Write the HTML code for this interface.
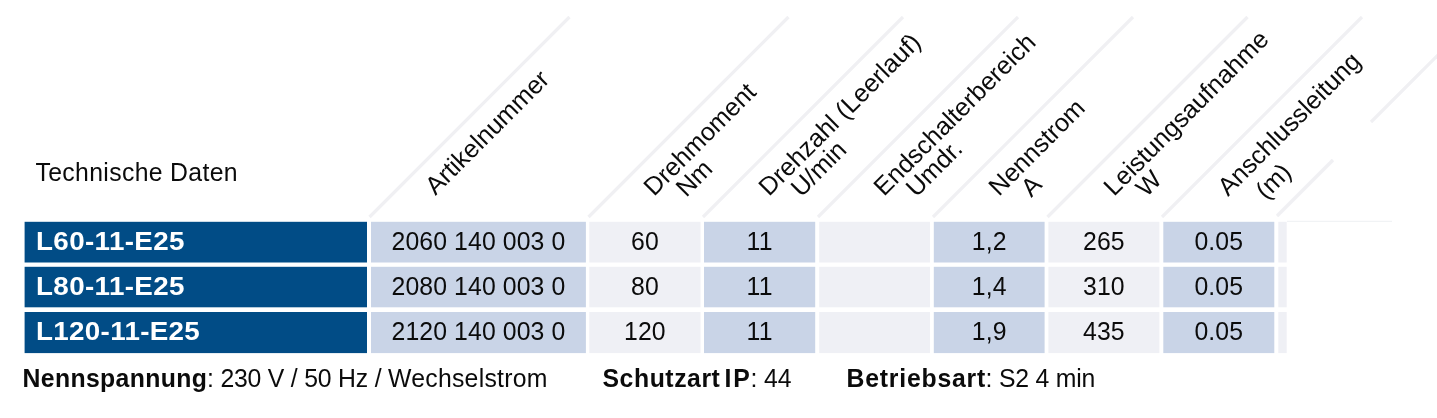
<!DOCTYPE html>
<html lang="de"><head><meta charset="utf-8"><title>Technische Daten</title>
<style>
html,body{margin:0;padding:0;background:#fff;}
body{width:1437px;height:418px;position:relative;overflow:hidden;font-family:"Liberation Sans",Arial,Helvetica,sans-serif;color:#0b0b0b;font-size:24.8px;line-height:1;}
.c{position:absolute;box-sizing:border-box;padding-top:6.75px;text-align:center;white-space:nowrap;letter-spacing:0.1px;}
.c span{display:inline-block;transform:scale(1,1.04);transform-origin:50% 0;}
.t{position:absolute;white-space:nowrap;line-height:1;transform-origin:0 0;}
.w{color:#fff;}
b,.b{font-weight:bold;}
svg{position:absolute;left:0;top:0;}
svg text{font-family:"Liberation Sans",Arial,Helvetica,sans-serif;font-size:25.3px;fill:#0b0b0b;}
</style></head><body>
<svg width="1437" height="418" viewBox="0 0 1437 418">
<rect x="24.6" y="221.8" width="342.4" height="40.7" fill="#014c86"/>
<rect x="371" y="221.8" width="214.9" height="40.7" fill="#c9d4e7"/>
<rect x="589.3" y="221.8" width="111.2" height="40.7" fill="#eff0f5"/>
<rect x="704" y="221.8" width="111.2" height="40.7" fill="#c9d4e7"/>
<rect x="819.2" y="221.8" width="110.8" height="40.7" fill="#eff0f5"/>
<rect x="933.8" y="221.8" width="110.8" height="40.7" fill="#c9d4e7"/>
<rect x="1048.4" y="221.8" width="111.0" height="40.7" fill="#eff0f5"/>
<rect x="1163.3" y="221.8" width="111.0" height="40.7" fill="#c9d4e7"/>
<rect x="1278.3" y="221.8" width="8.4" height="40.7" fill="#eff0f5"/>
<rect x="24.6" y="266.8" width="342.4" height="40.5" fill="#014c86"/>
<rect x="371" y="266.8" width="214.9" height="40.5" fill="#c9d4e7"/>
<rect x="589.3" y="266.8" width="111.2" height="40.5" fill="#eff0f5"/>
<rect x="704" y="266.8" width="111.2" height="40.5" fill="#c9d4e7"/>
<rect x="819.2" y="266.8" width="110.8" height="40.5" fill="#eff0f5"/>
<rect x="933.8" y="266.8" width="110.8" height="40.5" fill="#c9d4e7"/>
<rect x="1048.4" y="266.8" width="111.0" height="40.5" fill="#eff0f5"/>
<rect x="1163.3" y="266.8" width="111.0" height="40.5" fill="#c9d4e7"/>
<rect x="1278.3" y="266.8" width="8.4" height="40.5" fill="#eff0f5"/>
<rect x="24.6" y="312" width="342.4" height="41.1" fill="#014c86"/>
<rect x="371" y="312" width="214.9" height="41.1" fill="#c9d4e7"/>
<rect x="589.3" y="312" width="111.2" height="41.1" fill="#eff0f5"/>
<rect x="704" y="312" width="111.2" height="41.1" fill="#c9d4e7"/>
<rect x="819.2" y="312" width="110.8" height="41.1" fill="#eff0f5"/>
<rect x="933.8" y="312" width="110.8" height="41.1" fill="#c9d4e7"/>
<rect x="1048.4" y="312" width="111.0" height="41.1" fill="#eff0f5"/>
<rect x="1163.3" y="312" width="111.0" height="41.1" fill="#c9d4e7"/>
<rect x="1278.3" y="312" width="8.4" height="41.1" fill="#eff0f5"/>
<g stroke="#f0f0f3" stroke-width="3.2" fill="none">
<line x1="369.5" y1="217" x2="569.5" y2="17"/>
<line x1="588.5" y1="217" x2="788.5" y2="17"/>
<line x1="703" y1="217" x2="903" y2="17"/>
<line x1="818" y1="217" x2="1018" y2="17"/>
<line x1="933" y1="217" x2="1133" y2="17"/>
<line x1="1047.5" y1="217" x2="1247.5" y2="17"/>
<line x1="1162" y1="217" x2="1362" y2="17"/>
<line x1="1277" y1="216" x2="1333" y2="160"/><line x1="1371" y1="122" x2="1440" y2="53"/>
<line x1="1287" y1="221.3" x2="1392" y2="221.3" stroke-width="1" stroke="#eef0f3"/>
</g>
<g transform="translate(435.5,196) rotate(-45)"><text x="0" y="0">Artikelnummer</text></g>
<g transform="translate(654,197) rotate(-45)"><text x="0" y="0">Drehmoment</text><text x="22" y="23.5">Nm</text></g>
<g transform="translate(769,197) rotate(-45)"><text x="0" y="0">Drehzahl (Leerlauf)</text><text x="22" y="23.5">U/min</text></g>
<g transform="translate(884,197) rotate(-45)"><text x="0" y="0">Endschalterbereich</text><text x="22" y="23.5">Umdr.</text></g>
<g transform="translate(999,197) rotate(-45)"><text x="0" y="0">Nennstrom</text><text x="22" y="23.5">A</text></g>
<g transform="translate(1114,197) rotate(-45)"><text x="0" y="0">Leistungsaufnahme</text><text x="22" y="23.5">W</text></g>
<g transform="translate(1228,197) rotate(-45)"><text x="0" y="0">Anschlussleitung</text><text x="24.3" y="29.3">(m)</text></g>
</svg>
<div class="c" style="left:371px;top:221.8px;width:214.9px;height:40.7px"><span>2060 140 003 0</span></div>
<div class="c" style="left:589.3px;top:221.8px;width:111.2px;height:40.7px"><span>60</span></div>
<div class="c" style="left:704px;top:221.8px;width:111.2px;height:40.7px"><span>11</span></div>
<div class="c" style="left:933.8px;top:221.8px;width:110.8px;height:40.7px"><span>1,2</span></div>
<div class="c" style="left:1048.4px;top:221.8px;width:111.0px;height:40.7px"><span>265</span></div>
<div class="c" style="left:1163.3px;top:221.8px;width:111.0px;height:40.7px"><span>0.05</span></div>
<span class="t b w" style="left:36.0px;top:228.5px;letter-spacing:0.337px;transform:scale(1.12,1.04);">L60-11-E25</span>
<div class="c" style="left:371px;top:266.8px;width:214.9px;height:40.5px"><span>2080 140 003 0</span></div>
<div class="c" style="left:589.3px;top:266.8px;width:111.2px;height:40.5px"><span>80</span></div>
<div class="c" style="left:704px;top:266.8px;width:111.2px;height:40.5px"><span>11</span></div>
<div class="c" style="left:933.8px;top:266.8px;width:110.8px;height:40.5px"><span>1,4</span></div>
<div class="c" style="left:1048.4px;top:266.8px;width:111.0px;height:40.5px"><span>310</span></div>
<div class="c" style="left:1163.3px;top:266.8px;width:111.0px;height:40.5px"><span>0.05</span></div>
<span class="t b w" style="left:36.0px;top:273.5px;letter-spacing:0.337px;transform:scale(1.12,1.04);">L80-11-E25</span>
<div class="c" style="left:371px;top:312px;width:214.9px;height:41.1px"><span>2120 140 003 0</span></div>
<div class="c" style="left:589.3px;top:312px;width:111.2px;height:41.1px"><span>120</span></div>
<div class="c" style="left:704px;top:312px;width:111.2px;height:41.1px"><span>11</span></div>
<div class="c" style="left:933.8px;top:312px;width:110.8px;height:41.1px"><span>1,9</span></div>
<div class="c" style="left:1048.4px;top:312px;width:111.0px;height:41.1px"><span>435</span></div>
<div class="c" style="left:1163.3px;top:312px;width:111.0px;height:41.1px"><span>0.05</span></div>
<span class="t b w" style="left:36.0px;top:318.7px;letter-spacing:0.286px;transform:scale(1.12,1.04);">L120-11-E25</span>
<span class="t" style="left:35.5px;top:159.7px;letter-spacing:0.333px;transform:scale(1,1.04);">Technische Daten</span>
<span class="t b" style="left:22.5px;top:365.9px;letter-spacing:0.364px;transform:scale(1,1.04);">Nennspannung</span>
<span class="t" style="left:207.0px;top:365.9px;letter-spacing:-0.2px;transform:scale(1,1.04);">: 230 V / 50 Hz /</span>
<span class="t" style="left:388.0px;top:365.9px;letter-spacing:0.255px;transform:scale(1,1.04);">Wechselstrom</span>
<span class="t b" style="left:602.5px;top:365.9px;letter-spacing:0.55px;transform:scale(1,1.04);">Schutzart</span>
<span class="t b" style="left:724.5px;top:365.9px;letter-spacing:1.8px;transform:scale(1,1.04);">IP</span>
<span class="t" style="left:750.5px;top:365.9px;letter-spacing:-0.133px;transform:scale(1,1.04);">: 44</span>
<span class="t b" style="left:846.5px;top:365.9px;letter-spacing:0.78px;transform:scale(1,1.04);">Betriebsart</span>
<span class="t" style="left:985.5px;top:365.9px;letter-spacing:-0.2px;transform:scale(1,1.04);">: S2 4 min</span>
</body></html>
